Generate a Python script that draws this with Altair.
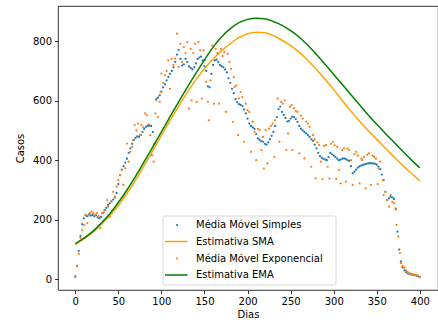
import altair as alt
import pandas as pd

# ---------------- data ----------------
sma_days = list(range(0, 401, 2))
sma_vals = [
    10, 45, 95, 145, 185, 205, 215, 212, 218, 214,
    216, 212, 215, 208, 205, 210, 222, 232, 240, 250,
    255, 262, 268, 275, 290, 320, 350, 368, 380, 392,
    405, 425, 440, 455, 468, 475, 480, 478, 485, 495,
    505, 512, 515, 516, 515, 495, 455, 605, 610, 618,
    630, 645, 655, 668, 680, 690, 700, 712, 730, 755,
    770, 740, 718, 722, 740, 730, 715, 710, 705, 712,
    725, 740, 745, 748, 735, 715, 700, 648, 645, 690,
    720, 735, 738, 730, 720, 716, 712, 705, 695, 675,
    660, 640, 625, 605, 595, 588, 586, 582, 570, 557,
    540, 523, 515, 510, 505, 488, 473, 468, 464, 462,
    455, 452, 460, 470, 482, 495, 515, 545, 572, 580,
    562, 552, 542, 530, 532, 540, 546, 545, 538, 529,
    515, 506, 500, 495, 490, 484, 478, 470, 465, 452,
    440, 425, 414, 408, 405, 402, 400, 410, 425, 420,
    415, 411, 405, 400, 402, 405, 406, 404, 400, 398,
    380, 356, 362, 368, 375, 379, 382, 384, 386, 388,
    389, 390, 389, 389, 388, 385, 378, 370, 352, 333,
    294, 266, 272, 277, 275, 270, 235, 160, 100, 60,
    40, 30, 24, 20, 18, 16, 15, 14, 12, 10,
    8,
]

ema_days = [
    0, 2, 4, 6, 8, 10, 12, 14, 16, 17,
    19, 21, 23, 25, 27, 29, 31, 33, 35, 37,
    38, 40, 42, 44, 46, 48, 50, 52, 54, 56,
    58, 60, 62, 64, 66, 67, 69, 71, 73, 75,
    77, 79, 81, 83, 85, 87, 89, 91, 93, 94,
    96, 98, 99, 100, 102, 104, 106, 108, 110, 112,
    114, 116, 118, 120, 122, 124, 126, 128, 130, 132,
    134, 135, 137, 139, 141, 143, 145, 147, 149, 150,
    152, 154, 155, 157, 159, 161, 163, 165, 167, 169,
    171, 173, 175, 177, 179, 181, 183, 184, 185, 187,
    189, 190, 192, 194, 196, 198, 200, 202, 204, 206,
    208, 210, 212, 214, 216, 218, 219, 221, 223, 225,
    227, 229, 231, 232, 235, 237, 239, 241, 243, 245,
    247, 249, 251, 252, 254, 256, 258, 260, 262, 264,
    266, 268, 270, 272, 274, 276, 278, 279, 281, 283,
    285, 287, 289, 291, 293, 295, 297, 299, 301, 303,
    304, 306, 308, 310, 312, 314, 316, 318, 320, 322,
    324, 326, 328, 330, 332, 333, 335, 337, 339, 341,
    343, 345, 347, 349, 351, 352, 354, 357, 358, 360,
    362, 364, 366, 368, 370, 372, 373, 375, 377, 378,
    380, 382, 384, 386, 388, 390, 392, 394, 396, 398,
    400,
]
ema_vals = [
    7, 43, 85, 139, 166, 182, 216, 189, 215, 222,
    227, 222, 216, 222, 212, 172, 222, 225, 233, 266,
    244, 210, 261, 294, 277, 311, 333, 350, 367, 317,
    373, 456, 395, 428, 445, 467, 518, 500, 523, 484,
    518, 510, 557, 551, 520, 484, 417, 395, 557, 601,
    545, 596, 629, 691, 660, 685, 700, 735, 640, 741,
    720, 741, 825, 713, 791, 730, 780, 760, 797, 573,
    774, 601, 760, 791, 596, 797, 770, 607, 769, 735,
    663, 596, 534, 668, 785, 590, 774, 760, 590, 774,
    750, 763, 562, 757, 730, 707, 529, 679, 646, 651,
    484, 607, 629, 612, 462, 590, 568, 562, 428, 529,
    495, 400, 505, 501, 434, 478, 372, 501, 389, 506,
    515, 523, 411, 534, 607, 462, 596, 590, 601, 434,
    490, 579, 585, 434, 574, 565, 562, 423, 550, 540,
    406, 530, 523, 512, 378, 484, 470, 339, 460, 451,
    395, 336, 448, 451, 378, 338, 455, 462, 450, 337,
    445, 367, 322, 434, 440, 328, 439, 434, 400, 317,
    420, 428, 415, 322, 405, 400, 410, 305, 418, 423,
    317, 415, 411, 405, 320, 372, 395, 333, 283, 294,
    266, 244, 283, 260, 255, 238, 183, 143, 88, 54,
    45, 40, 30, 24, 20, 18, 17, 15, 14, 12,
    7,
]

fit_days = list(range(0, 401, 10))
fit_sma = [
    118, 136, 157, 183, 213, 248, 288, 333, 382, 432,
    483, 533, 582, 628, 670, 708, 740, 768, 792, 812,
    825, 830, 828, 818, 803, 785, 762, 735, 705, 672,
    637, 600, 564, 531, 500, 470, 440, 411, 383, 356,
    330,
]
fit_ema = [
    119, 138, 160, 188, 220, 258, 300, 346, 395, 445,
    495, 546, 596, 645, 692, 737, 780, 815, 842, 862,
    873, 877, 875, 866, 853, 835, 813, 786, 755, 722,
    688, 654, 620, 586, 552, 521, 490, 460, 430, 401,
    374,
]

x_ticks = [0, 50, 100, 150, 200, 250, 300, 350, 400]
y_ticks = [0, 200, 400, 600, 800]

legend_labels = ["Média Móvel Simples", "Estimativa SMA",
                 "Média Móvel Exponencial", "Estimativa EMA"]
legend_colors = ["#1f77b4", "#ffa500", "#ff7f0e", "#008000"]
legend_kinds = ["point", "line", "point", "line"]

# ---------------- chart ----------------
W, H = 380, 284
FONT = "DejaVu Sans"

xs = alt.Scale(domain=[-20.05, 421.05], nice=False, zero=False)
ys = alt.Scale(domain=[-36, 918], nice=False, zero=False)

X = alt.X("day:Q", scale=xs, axis=alt.Axis(
    title="Dias", values=x_ticks, grid=False, domain=False,
    tickSize=3.5, tickWidth=0.8, tickColor="#000", labelColor="#000",
    titleColor="#000", labelFontSize=10, titleFontSize=10,
    titleFontWeight="normal", labelPadding=3, titlePadding=3,
    labelFont=FONT, titleFont=FONT))
Y = alt.Y("value:Q", scale=ys, axis=alt.Axis(
    title="Casos", values=y_ticks, grid=False, domain=False,
    tickSize=3.5, tickWidth=0.8, tickColor="#000", labelColor="#000",
    titleColor="#000", labelFontSize=10, titleFontSize=10,
    titleFontWeight="normal", labelPadding=3, titlePadding=7,
    labelFont=FONT, titleFont=FONT))

df_sma = pd.DataFrame({"day": sma_days, "value": sma_vals})
df_ema = pd.DataFrame({"day": ema_days, "value": ema_vals})
df_fs = pd.DataFrame({"day": fit_days, "value": fit_sma})
df_fe = pd.DataFrame({"day": fit_days, "value": fit_ema})

pts_sma = alt.Chart(df_sma).mark_circle(size=5, opacity=1, color=legend_colors[0]).encode(x=X, y=Y)
line_sma = alt.Chart(df_fs).mark_line(color=legend_colors[1], strokeWidth=1.5,
                                      interpolate="monotone").encode(x=X, y=Y)
pts_ema = alt.Chart(df_ema).mark_circle(size=5, opacity=1, color=legend_colors[2]).encode(x=X, y=Y)
line_ema = alt.Chart(df_fe).mark_line(color=legend_colors[3], strokeWidth=1.5,
                                      interpolate="monotone").encode(x=X, y=Y)

# legend (manual, matplotlib style)
LX0, LX1, LY0, LY1 = 105, 278, 210, 279
row_y = [219, 235.5, 252.5, 269]
one = pd.DataFrame({"k": [0]})
legend_layers = [
    alt.Chart(one).mark_rect(fill="white", fillOpacity=0.8, stroke="#cccccc",
                             strokeWidth=0.8, cornerRadius=2).encode(
        x=alt.value(LX0), x2=alt.value(LX1), y=alt.value(LY0), y2=alt.value(LY1))
]
for lab, col, kind, yy in zip(legend_labels, legend_colors, legend_kinds, row_y):
    if kind == "point":
        legend_layers.append(alt.Chart(one).mark_circle(size=5, opacity=1, color=col).encode(
            x=alt.value(119), y=alt.value(yy)))
    else:
        legend_layers.append(alt.Chart(one).mark_rule(color=col, strokeWidth=1.5).encode(
            x=alt.value(107), x2=alt.value(129.5), y=alt.value(yy)))
    legend_layers.append(alt.Chart(pd.DataFrame({"t": [lab]})).mark_text(
        align="left", baseline="middle", fontSize=10, font=FONT, color="#000").encode(
        x=alt.value(138), y=alt.value(yy), text="t:N"))

chart = alt.layer(pts_sma, line_sma, pts_ema, line_ema, *legend_layers).properties(
    width=W, height=H,
    padding={"left": 58, "top": 6, "right": 0, "bottom": 37},
    autosize=alt.AutoSizeParams(type="none"),
).configure(font=FONT, background="white").configure_view(
    stroke="#000", strokeWidth=0.8)

chart.save("out.html", embed_options={"renderer": "svg", "actions": False})
